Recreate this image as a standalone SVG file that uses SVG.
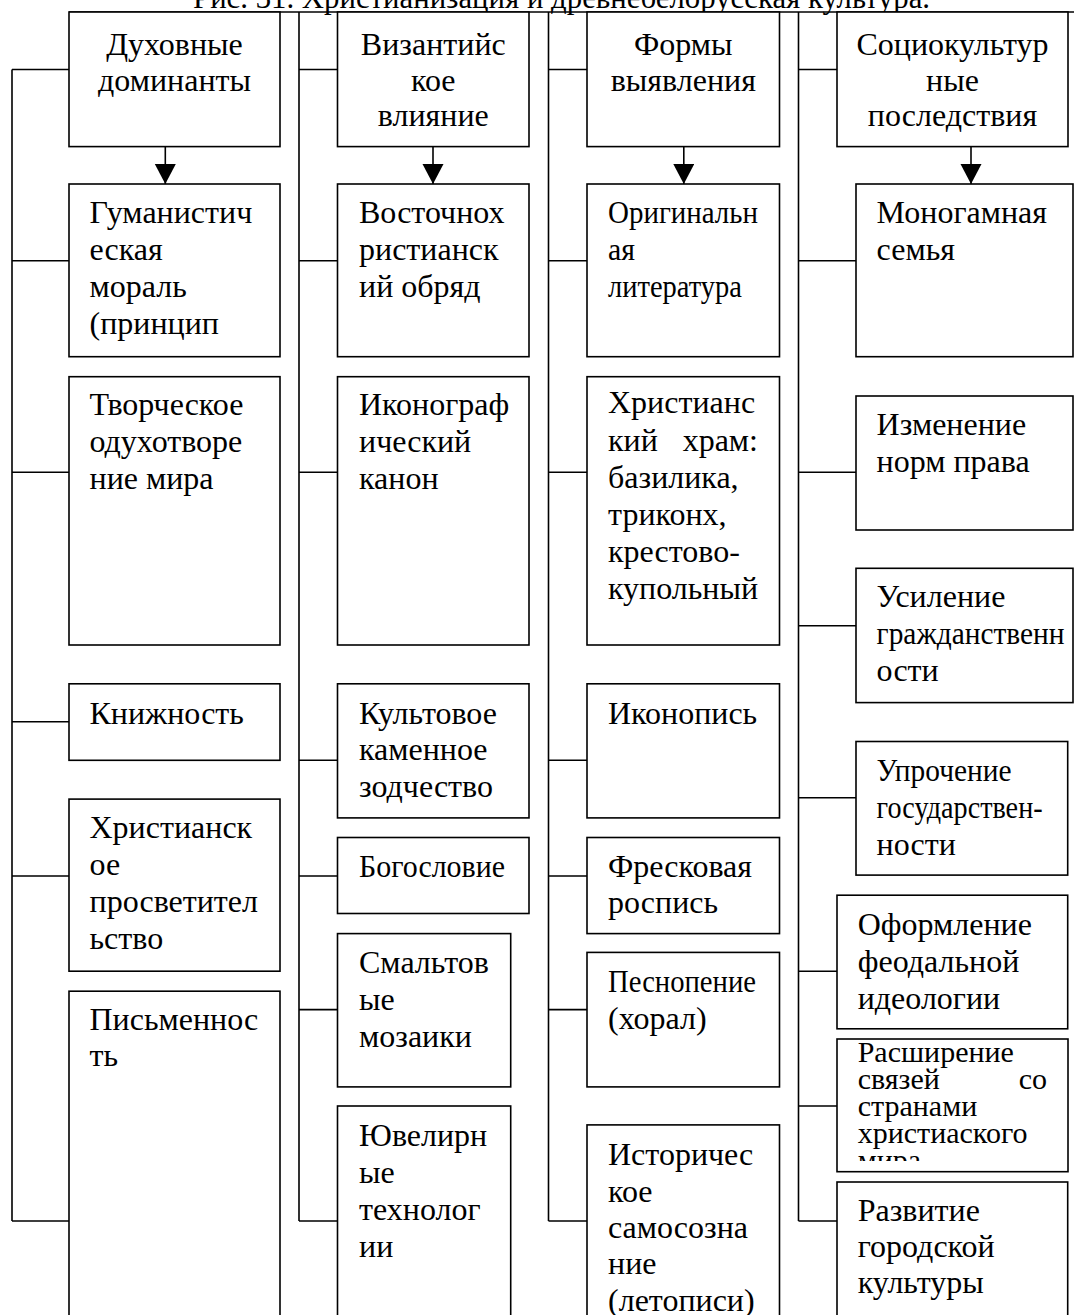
<svg xmlns="http://www.w3.org/2000/svg" width="1074" height="1315" viewBox="0 0 1074 1315">
<style>
.box{fill:#fff;stroke:#000;stroke-width:1.6}
.ln{fill:none;stroke:#000;stroke-width:1.6}
.t{font-family:"Liberation Serif","Times New Roman",serif;font-size:32px;fill:#000}
.s{font-size:30px}
.c{text-anchor:middle}
.e{text-anchor:end}
</style>
<defs>
<marker id="ah" markerUnits="userSpaceOnUse" markerWidth="21" markerHeight="22" refX="20" refY="10.5" orient="auto">
<path d="M0,0 L20,10.5 L0,21 Z" fill="#000"/>
</marker>
<clipPath id="clipR"><rect x="837" y="1039" width="231" height="122"/></clipPath>
</defs>
<rect width="1074" height="1315" fill="#fff"/>
<text class="t" x="193" y="8" textLength="737" lengthAdjust="spacingAndGlyphs">Рис. 31. Христианизация и древнебелорусская культура.</text>

<g id="connectors">
<path class="ln" d="M69,12 H1074"/>
<path class="ln" d="M12,69.5 V1221 M299,12 V1221 M548.5,12 V1221 M798.5,12 V1221"/>
<path class="ln" d="M12,69.5 H69 M12,260.7 H69 M12,472.3 H69 M12,721.8 H69 M12,876 H69 M12,1221 H69"/>
<path class="ln" d="M299,69.5 H337.5 M299,260.7 H337.5 M299,472.3 H337.5 M299,760.3 H337.5 M299,876 H337.5 M299,1009.6 H337.5 M299,1221 H337.5"/>
<path class="ln" d="M548.5,69.5 H587 M548.5,260.7 H587 M548.5,472.3 H587 M548.5,760.3 H587 M548.5,876 H587 M548.5,1009.6 H587 M548.5,1221 H587"/>
<path class="ln" d="M798.5,69.5 H837 M798.5,260.7 H856 M798.5,472.3 H856 M798.5,625.7 H856 M798.5,797.8 H856 M798.5,971.2 H837 M798.5,1106 H837 M798.5,1221 H837"/>
<path class="ln" d="M165.3,146.6 V184" marker-end="url(#ah)"/>
<path class="ln" d="M433,146.6 V184" marker-end="url(#ah)"/>
<path class="ln" d="M683.8,146.6 V184" marker-end="url(#ah)"/>
<path class="ln" d="M971,146.6 V184" marker-end="url(#ah)"/>
</g>

<g id="n-duh">
<rect class="box" x="69" y="12" width="211" height="134.6"/>
<text class="t c"><tspan x="174.5" y="55">Духовные</tspan><tspan x="174.5" y="91">доминанты</tspan></text>
</g>
<g id="n-gum">
<rect class="box" x="69" y="184" width="211" height="172.7"/>
<text class="t"><tspan x="89.5" y="223">Гуманистич</tspan><tspan x="89.5" y="260">еская</tspan><tspan x="89.5" y="297">мораль</tspan><tspan x="89.5" y="334">(принцип</tspan></text>
</g>
<g id="n-tvor">
<rect class="box" x="69" y="376.7" width="211" height="268.3"/>
<text class="t"><tspan x="89.5" y="415">Творческое</tspan><tspan x="89.5" y="452">одухотворе</tspan><tspan x="89.5" y="489">ние мира</tspan></text>
</g>
<g id="n-kniz">
<rect class="box" x="69" y="683.8" width="211" height="76.5"/>
<text class="t" x="89.5" y="723.5">Книжность</text>
</g>
<g id="n-hrpros">
<rect class="box" x="69" y="799.1" width="211" height="172.1"/>
<text class="t"><tspan x="89.5" y="838">Христианск</tspan><tspan x="89.5" y="875">ое</tspan><tspan x="89.5" y="912">просветител</tspan><tspan x="89.5" y="949">ьство</tspan></text>
</g>
<g id="n-pism">
<rect class="box" x="69" y="991.2" width="211" height="340"/>
<text class="t"><tspan x="89.5" y="1030">Письменнос</tspan><tspan x="89.5" y="1066">ть</tspan></text>
</g>

<g id="n-viz">
<rect class="box" x="337.5" y="12" width="191.5" height="134.6"/>
<text class="t c"><tspan x="433.3" y="55">Византийс</tspan><tspan x="433.3" y="91">кое</tspan><tspan x="433.3" y="126">влияние</tspan></text>
</g>
<g id="n-vost">
<rect class="box" x="337.5" y="184" width="191.5" height="172.7"/>
<text class="t"><tspan x="359" y="223">Восточнох</tspan><tspan x="359" y="260">ристианск</tspan><tspan x="359" y="297">ий обряд</tspan></text>
</g>
<g id="n-ikon">
<rect class="box" x="337.5" y="376.7" width="191.5" height="268.3"/>
<text class="t"><tspan x="359" y="415">Иконограф</tspan><tspan x="359" y="452">ический</tspan><tspan x="359" y="489">канон</tspan></text>
</g>
<g id="n-kult">
<rect class="box" x="337.5" y="683.8" width="191.5" height="134.1"/>
<text class="t"><tspan x="359" y="723.5">Культовое</tspan><tspan x="359" y="760">каменное</tspan><tspan x="359" y="797">зодчество</tspan></text>
</g>
<g id="n-bogo">
<rect class="box" x="337.5" y="837.5" width="191.5" height="76"/>
<text class="t" x="359" y="877" textLength="146" lengthAdjust="spacingAndGlyphs">Богословие</text>
</g>
<g id="n-smalt">
<rect class="box" x="337.5" y="933.6" width="173.2" height="153.3"/>
<text class="t"><tspan x="359" y="973">Смальтов</tspan><tspan x="359" y="1010">ые</tspan><tspan x="359" y="1047">мозаики</tspan></text>
</g>
<g id="n-yuvel">
<rect class="box" x="337.5" y="1106" width="173.2" height="230"/>
<text class="t"><tspan x="359" y="1146">Ювелирн</tspan><tspan x="359" y="1183">ые</tspan><tspan x="359" y="1220">технолог</tspan><tspan x="359" y="1257">ии</tspan></text>
</g>

<g id="n-form">
<rect class="box" x="587" y="12" width="192.5" height="134.6"/>
<text class="t c"><tspan x="683.3" y="55">Формы</tspan><tspan x="683.3" y="91">выявления</tspan></text>
</g>
<g id="n-orig">
<rect class="box" x="587" y="184" width="192.5" height="172.7"/>
<text class="t" x="608" y="223" textLength="150" lengthAdjust="spacingAndGlyphs">Оригинальн</text>
<text class="t" x="608" y="260" textLength="27" lengthAdjust="spacingAndGlyphs">ая</text>
<text class="t" x="608" y="297" textLength="134" lengthAdjust="spacingAndGlyphs">литература</text>
</g>
<g id="n-hram">
<rect class="box" x="587" y="376.7" width="192.5" height="268.3"/>
<text class="t"><tspan x="608" y="413">Христианс</tspan><tspan x="608" y="451">кий</tspan><tspan x="608" y="488">базилика,</tspan><tspan x="608" y="525">триконх,</tspan><tspan x="608" y="562">крестово-</tspan><tspan x="608" y="599">купольный</tspan></text>
<text class="t e" x="758" y="451">храм:</text>
</g>
<g id="n-ikonop">
<rect class="box" x="587" y="683.8" width="192.5" height="134.1"/>
<text class="t" x="608" y="723.5">Иконопись</text>
</g>
<g id="n-fresk">
<rect class="box" x="587" y="837.5" width="192.5" height="96.1"/>
<text class="t"><tspan x="608" y="877">Фресковая</tspan><tspan x="608" y="913">роспись</tspan></text>
</g>
<g id="n-pesn">
<rect class="box" x="587" y="952.4" width="192.5" height="134.5"/>
<text class="t" x="608" y="992" textLength="148" lengthAdjust="spacingAndGlyphs">Песнопение</text>
<text class="t" x="608" y="1029">(хорал)</text>
</g>
<g id="n-istor">
<rect class="box" x="587" y="1124.9" width="192.5" height="210"/>
<text class="t"><tspan x="608" y="1165">Историчес</tspan><tspan x="608" y="1202">кое</tspan><tspan x="608" y="1238">самосозна</tspan><tspan x="608" y="1274">ние</tspan><tspan x="608" y="1311">(летописи)</tspan></text>
</g>

<g id="n-soc">
<rect class="box" x="837" y="12" width="231" height="134.6"/>
<text class="t c"><tspan x="952.5" y="55">Социокультур</tspan><tspan x="952.5" y="91">ные</tspan><tspan x="952.5" y="126">последствия</tspan></text>
</g>
<g id="n-mono">
<rect class="box" x="856" y="184" width="217" height="172.7"/>
<text class="t"><tspan x="876.6" y="223">Моногамная</tspan><tspan x="876.6" y="260">семья</tspan></text>
</g>
<g id="n-izm">
<rect class="box" x="856" y="396" width="217" height="134"/>
<text class="t"><tspan x="876.6" y="435">Изменение</tspan><tspan x="876.6" y="472">норм права</tspan></text>
</g>
<g id="n-usil">
<rect class="box" x="856" y="568.3" width="217" height="134.3"/>
<text class="t" x="876.6" y="607">Усиление</text>
<text class="t" x="876.6" y="644" textLength="188" lengthAdjust="spacingAndGlyphs">гражданственн</text>
<text class="t" x="876.6" y="681">ости</text>
</g>
<g id="n-upr">
<rect class="box" x="856" y="741.5" width="211.7" height="133.6"/>
<text class="t" x="876.6" y="781" textLength="135" lengthAdjust="spacingAndGlyphs">Упрочение</text>
<text class="t" x="876.6" y="818" textLength="166" lengthAdjust="spacingAndGlyphs">государствен-</text>
<text class="t" x="876.6" y="855">ности</text>
</g>
<g id="n-oform">
<rect class="box" x="837" y="895.2" width="230.7" height="133.6"/>
<text class="t"><tspan x="857.7" y="934.5">Оформление</tspan><tspan x="857.7" y="971.5">феодальной</tspan><tspan x="857.7" y="1008.5">идеологии</tspan></text>
</g>
<g id="n-rassh">
<rect class="box" x="837" y="1039" width="231" height="132.7"/>
<g clip-path="url(#clipR)">
<text class="t s"><tspan x="857.7" y="1062">Расширение</tspan><tspan x="857.7" y="1089">связей</tspan><tspan x="857.7" y="1116">странами</tspan><tspan x="857.7" y="1143">христиаского</tspan><tspan x="857.7" y="1170">мира</tspan></text>
<text class="t s e" x="1047" y="1089">со</text>
</g>
</g>
<g id="n-razv">
<rect class="box" x="837" y="1182" width="230.7" height="150"/>
<text class="t"><tspan x="857.7" y="1221">Развитие</tspan><tspan x="857.7" y="1257">городской</tspan><tspan x="857.7" y="1293">культуры</tspan></text>
</g>
</svg>
